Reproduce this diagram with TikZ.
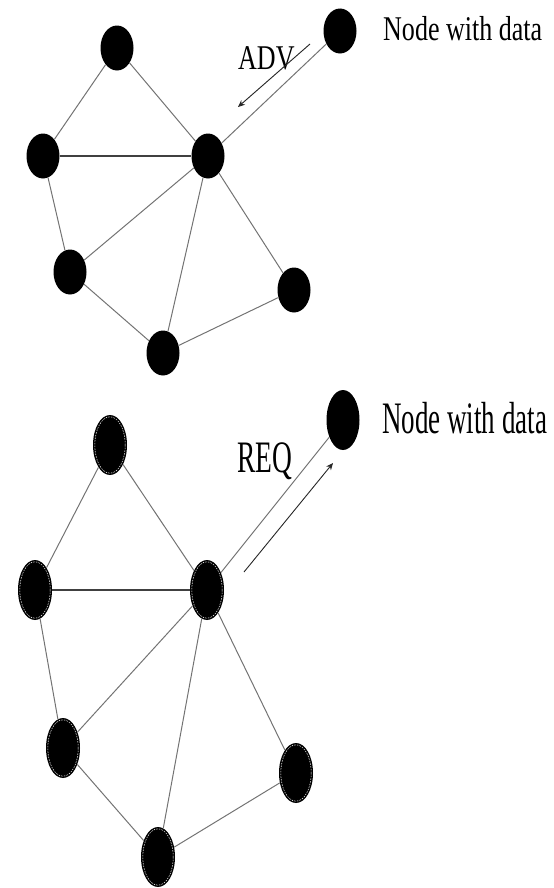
\documentclass[tikz,border=0pt]{standalone}
\usepackage{fontspec}
\setmainfont{Liberation Serif}
\usetikzlibrary{shapes.geometric,arrows.meta}
\tikzset{
  tnode/.style={ellipse, fill=black, inner sep=0pt, minimum width=33bp, minimum height=45bp},
  dnode/.style={ellipse, fill=black, inner sep=0pt, minimum width=33bp, minimum height=60bp},
  bnode/.style={dnode, minimum width=34bp,
    path picture={\draw[white, line width=0.5bp, dash pattern=on 1.5bp off 1.2bp]
      (path picture bounding box.center) ellipse (15.2bp and 28.2bp);}},
  edge/.style={draw=black!55, line width=1bp},
  hedge/.style={draw=black!75, line width=1.3bp},
  msg/.style={draw=black!85, line width=0.9bp, -{Stealth[length=7bp,width=6bp]}},
  labtop/.style={inner sep=0pt, anchor=base west, font=\fontsize{34.7bp}{40bp}\selectfont},
  labbot/.style={inner sep=0pt, anchor=base west, font=\fontsize{45bp}{50bp}\selectfont}
}
\begin{document}
\begin{tikzpicture}[x=1bp, y=-1bp]
\useasboundingbox (0,0) rectangle (554,888);
% ---------- top graph ----------
\node[tnode] (T1) at (117,48) {};
\node[tnode] (D1) at (340,31) {};
\node[tnode] (L1) at (43,156) {};
\node[tnode] (C1) at (208,156) {};
\node[tnode] (LL1) at (70,272) {};
\node[tnode] (R1) at (294,290) {};
\node[tnode] (B1) at (163,353) {};
\draw[edge] (T1) -- (L1);
\draw[edge] (T1) -- (C1);
\draw[hedge] (L1) -- (C1);
\draw[edge] (L1) -- (LL1);
\draw[edge] (C1) -- (LL1);
\draw[edge] (C1) -- (B1);
\draw[edge] (C1) -- (R1);
\draw[edge] (LL1) -- (B1);
\draw[edge] (B1) -- (R1);
\draw[edge] (C1) -- (D1);
\node[labtop] (txt1) at (383,40) {\scalebox{0.75}[1]{Node with data}};
\node[labtop] (adv) at (238,69) {\scalebox{0.75}[1]{ADV}};
\coordinate (a1s) at (310,44);
\coordinate (a1e) at (238,107);
\draw[msg] (a1s) -- (a1e);
% ---------- bottom graph ----------
\node[bnode] (T2) at (110,445) {};
\node[dnode] (D2) at (343,420) {};
\node[bnode] (L2) at (35,590) {};
\node[bnode] (C2) at (207,590) {};
\node[bnode] (LL2) at (63,748) {};
\node[bnode] (R2) at (296,773) {};
\node[bnode] (B2) at (158,857) {};
\draw[edge] (T2) -- (L2);
\draw[edge] (T2) -- (C2);
\draw[hedge] (L2) -- (C2);
\draw[edge] (L2) -- (LL2);
\draw[edge] (C2) -- (LL2);
\draw[edge] (C2) -- (B2);
\draw[edge] (C2) -- (R2);
\draw[edge] (LL2) -- (B2);
\draw[edge] (B2) -- (R2);
\draw[edge] (C2) -- (D2);
\node[labbot] (txt2) at (382,433) {\scalebox{0.6}[1]{Node with data}};
\node[labbot] (req) at (237,472) {\scalebox{0.61}[1]{REQ}};
\coordinate (a2s) at (244,572);
\coordinate (a2e) at (333,463);
\draw[msg] (a2s) -- (a2e);
\end{tikzpicture}
\end{document}
